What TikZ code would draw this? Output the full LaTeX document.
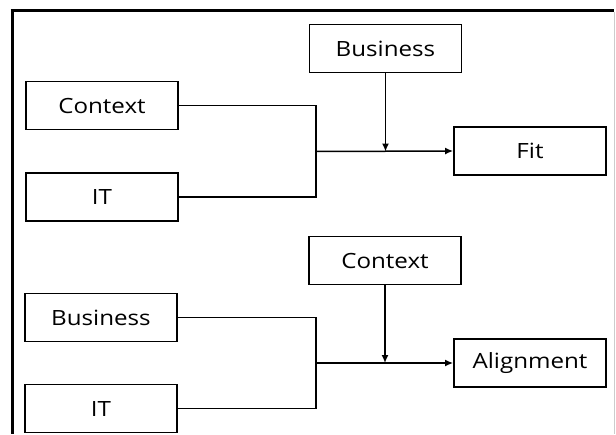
\documentclass[tikz,border=0pt]{standalone}
\usepackage{fontspec}
\setmainfont{Open Sans}[FakeStretch=1.15]
\usetikzlibrary{arrows.meta}
\begin{document}
\begin{tikzpicture}[x=1pt,y=-1pt,
  box/.style={draw=black,line width=1.8pt,minimum width=152pt,minimum height=48pt,inner sep=0pt,font=\fontsize{21}{24}\selectfont},
  conn/.style={line width=1.5pt},
  arr/.style={conn,-{Latex[length=8pt,width=7pt]}}]
\useasboundingbox (0,0) rectangle (616,434);
% frame
\draw[black,line width=3pt] (10.5,10.5) -- (614,10.5);
\draw[black,line width=3pt] (12,9) -- (12,434);
\draw[black!20,line width=1.5pt] (614.5,12) -- (614.5,434);
% top diagram
\node[box] (bus1) at (385.5,48.5) {Business};
\node[box] (fit) at (530,151) {Fit};
\node[box] (ctx1) at (102,105.5) {Context};
\node[box] (it1) at (102,197) {IT};
\coordinate (j1) at (316,151.5);
\draw[conn] (ctx1.east) -| (j1) |- (it1.east);
\draw[arr] (j1) -- (fit.west);
\draw[arr] (bus1.south) -- (bus1.south |- j1);
% bottom diagram
\node[box] (ctx2) at (385,260.5) {Context};
\node[box] (align) at (530,363) {Alignment};
\node[box] (bus2) at (101,317.5) {Business};
\node[box] (it2) at (101,408.5) {IT};
\coordinate (j2) at (316,363);
\draw[conn] (bus2.east) -| (j2) |- (it2.east);
\draw[arr] (j2) -- (align.west);
\draw[arr] (ctx2.south) -- (ctx2.south |- j2);
\end{tikzpicture}
\end{document}
